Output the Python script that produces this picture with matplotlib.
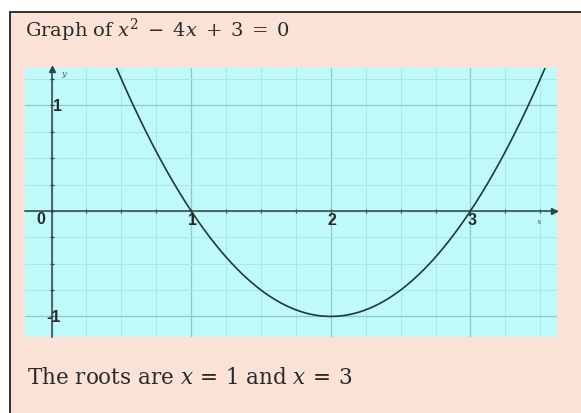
#!/usr/bin/env python3
"""Parabola y = x^2 - 4x + 3 on a cyan grid inside a peach box."""

import matplotlib.pyplot as plt
import numpy as np
from matplotlib.patches import Rectangle
from matplotlib.ticker import MultipleLocator

# curve coefficients: y = a x^2 + b x + c
COEFFS = [1.0, -4.0, 3.0]
X_RANGE = [-0.19, 3.62]
Y_RANGE = [-1.195, 1.355]

X_TICK_LABELS = ["1", "2", "3"]
X_TICK_VALUES = [1, 2, 3]
Y_TICK_LABELS = ["1", "-1"]
Y_TICK_VALUES = [1, -1]

TITLE = r"Graph of $x^2 \;-\; 4x \;+\; 3 \;=\; 0$"
FOOTER = r"The roots are $x \,=\, 1$ and $x \,=\, 3$"

PEACH = "#fbe2d6"
CYAN = "#c0f9fa"
GRID_MINOR = "#a9e8e8"
GRID_MAJOR = "#8cc9c9"
AXIS = "#2d4747"
CURVE = "#1e3a3a"
LABEL = "#2a2a2a"

plt.rcParams["mathtext.fontset"] = "dejavuserif"

fig = plt.figure(figsize=(5.81, 4.14), dpi=100, facecolor="white")

# peach framed box running off the right and bottom edges
fig.patches.append(
    Rectangle((10 / 581, -0.05), 1.0, (414 - 13) / 414 + 0.05,
              transform=fig.transFigure, facecolor=PEACH,
              edgecolor="#222222", linewidth=1.3, zorder=-5)
)

ax = fig.add_axes([25 / 581, (414 - 338) / 414, 532 / 581, 269 / 414])
ax.set_facecolor(CYAN)
ax.set_xlim(*X_RANGE)
ax.set_ylim(*Y_RANGE)

for side in ("top", "right"):
    ax.spines[side].set_visible(False)
ax.spines["left"].set_position(("data", 0))
ax.spines["bottom"].set_position(("data", 0))
for side in ("left", "bottom"):
    ax.spines[side].set_color(AXIS)
    ax.spines[side].set_linewidth(1.1)

ax.xaxis.set_major_locator(MultipleLocator(1))
ax.xaxis.set_minor_locator(MultipleLocator(0.25))
ax.yaxis.set_major_locator(MultipleLocator(1))
ax.yaxis.set_minor_locator(MultipleLocator(0.25))
ax.tick_params(which="both", direction="inout", length=3, width=0.9,
               color=AXIS, labelbottom=False, labelleft=False)
ax.grid(which="minor", color=GRID_MINOR, linewidth=0.7)
ax.grid(which="major", color=GRID_MAJOR, linewidth=0.9)
ax.set_axisbelow(True)

# axis arrow heads
ax.plot(3.6, 0, marker=">", markersize=4, color=AXIS, clip_on=False)
ax.plot(0, 1.345, marker="^", markersize=4, color=AXIS, clip_on=False)
ax.text(3.49, -0.1, "x", fontsize=6, style="italic", color="#555555",
        ha="center", va="center", family="DejaVu Serif")
ax.text(0.085, 1.31, "y", fontsize=6, style="italic", color="#555555",
        ha="center", va="center", family="DejaVu Serif")

x = np.linspace(X_RANGE[0], X_RANGE[1], 600)
y = np.polyval(COEFFS, x)
ax.plot(x, y, color=CURVE, linewidth=1.2, zorder=5, clip_on=True)

lab = dict(fontsize=11.5, fontweight="bold", color=LABEL,
           family="Liberation Sans", zorder=6)
ax.text(-0.08, -0.07, "0", ha="center", va="center", **lab)
for v, s in zip(X_TICK_VALUES, X_TICK_LABELS):
    ax.text(v + 0.01, -0.08, s, ha="center", va="center", **lab)
for v, s in zip(Y_TICK_VALUES, Y_TICK_LABELS):
    ax.text(0.01 if v > 0 else -0.04, v, s, ha="left", va="center", **lab)

fig.text(25 / 581, 1 - 30 / 414, TITLE, fontsize=14, color="#2a2a2a",
         family="DejaVu Serif", ha="left", va="center")
fig.text(27 / 581, 1 - 378 / 414, FOOTER, fontsize=15.5, color="#2a2a2a",
         family="DejaVu Serif", ha="left", va="center")

fig.savefig("out.png", dpi=100, facecolor="white")
